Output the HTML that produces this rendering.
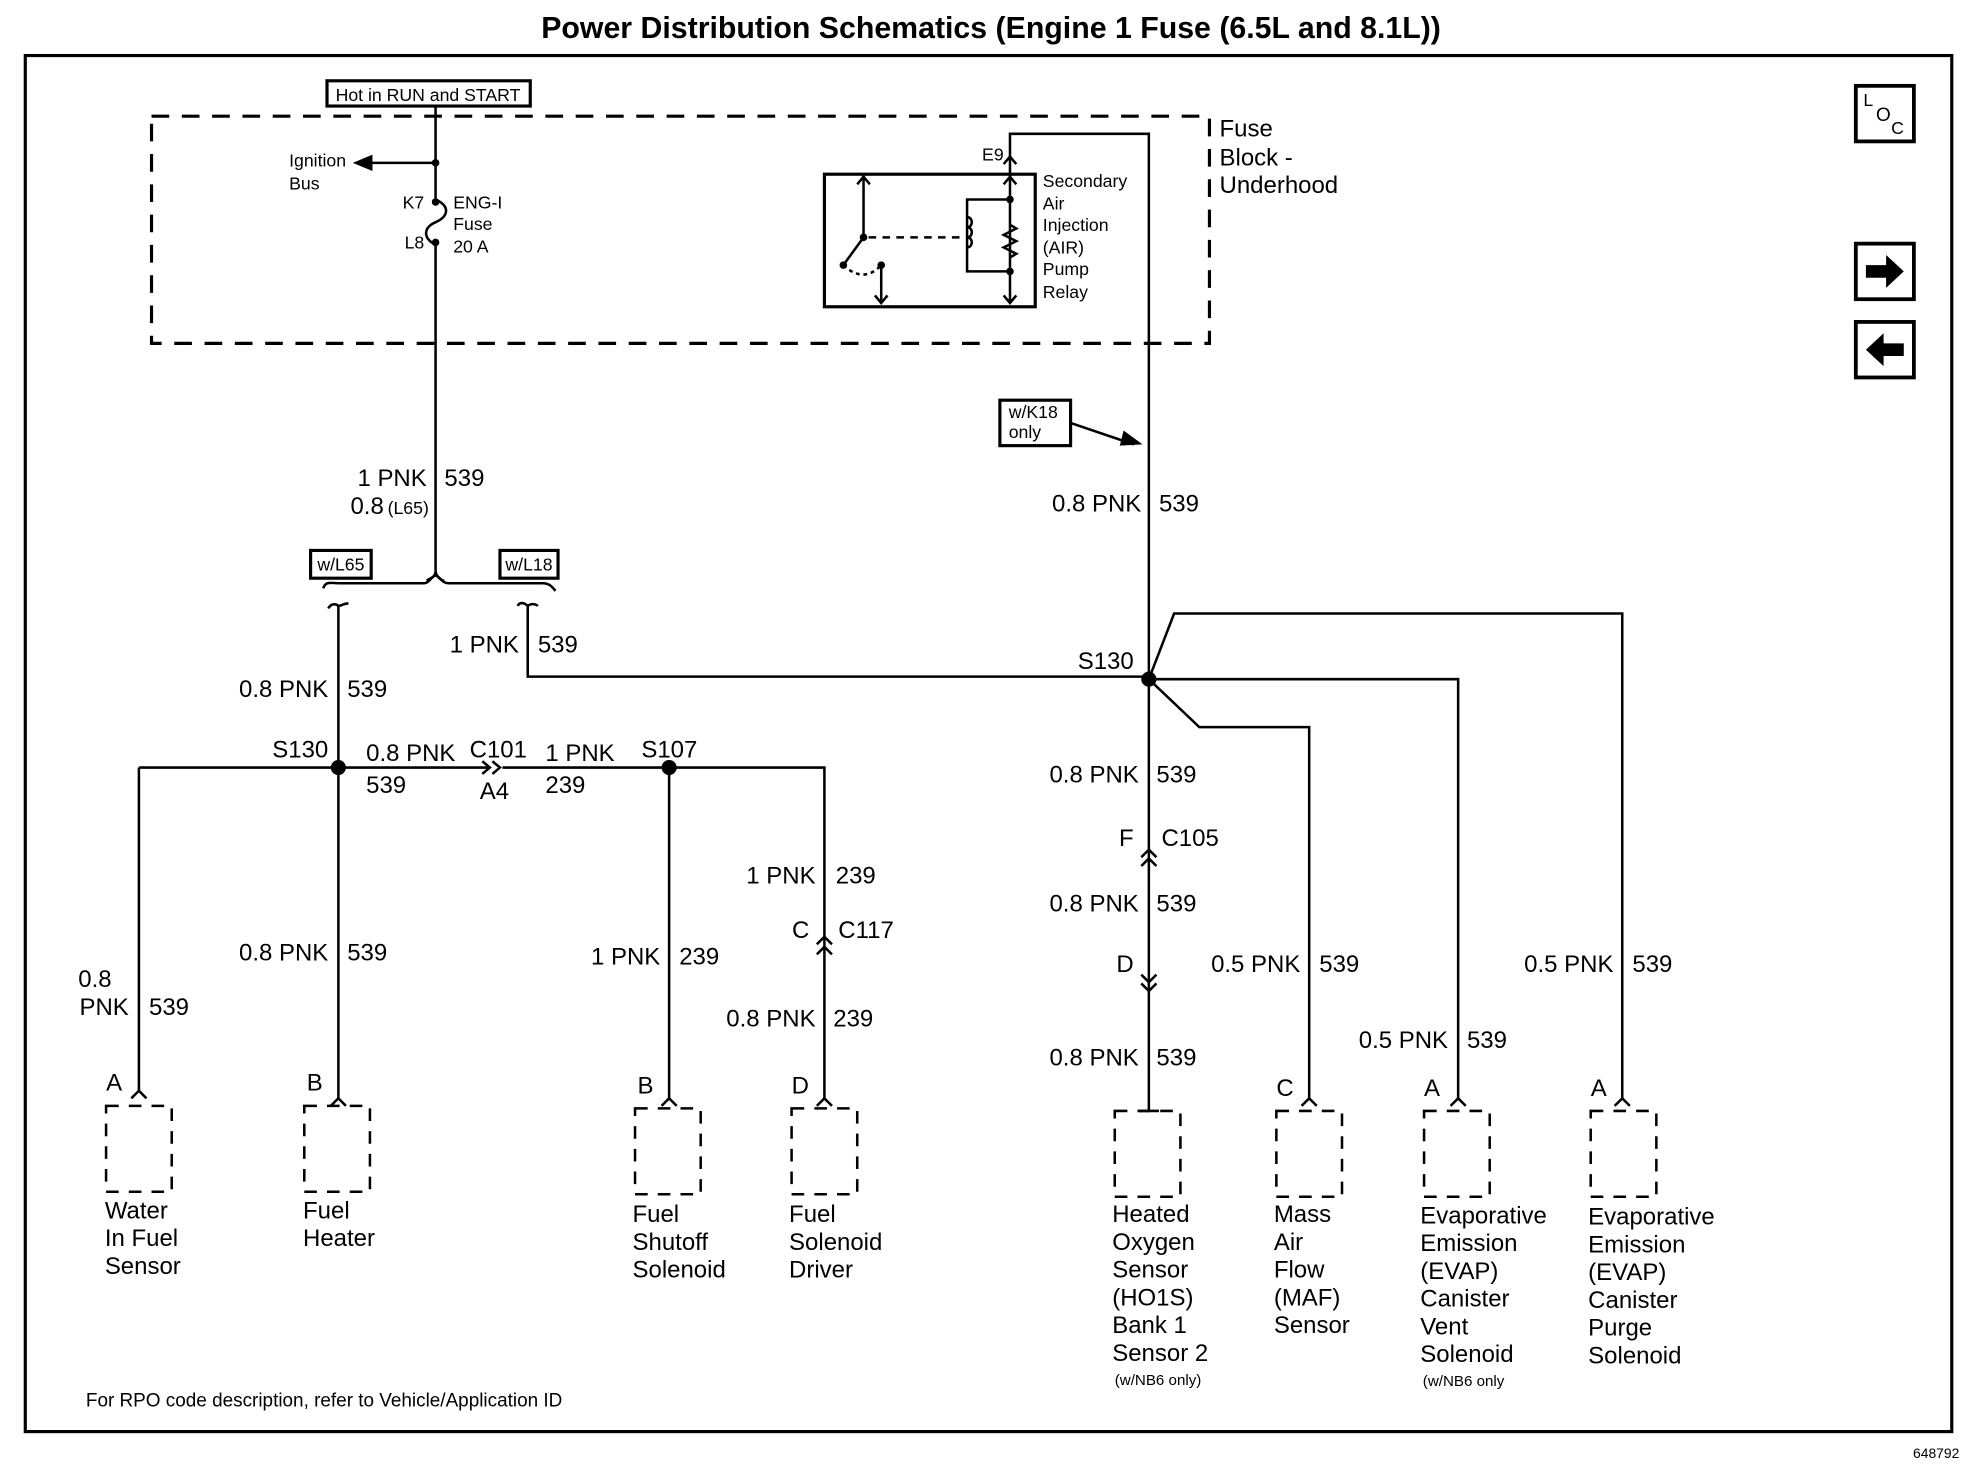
<!DOCTYPE html>
<html><head><meta charset="utf-8"><style>
html,body{margin:0;padding:0;background:#fff;}
svg{display:block;}
text{font-family:"Liberation Sans",Arial,sans-serif;fill:#000;}
.w{font-size:19px;}
.s{font-size:14px;}
.c{font-size:19px;}
</style></head><body>
<svg width="1972" height="1472" viewBox="0 0 1562 1166" xmlns="http://www.w3.org/2000/svg">
<g stroke="#000" stroke-width="2" fill="none">
<rect x="20" y="44" width="1526" height="1090" stroke-width="2.5"/>
<rect x="120" y="92" width="838" height="180" stroke-dasharray="14,10" stroke-width="2.5"/>
<rect x="259" y="64" width="161" height="20" stroke-width="2.5"/>
<path d="M345 84 V158 M345 194 V452"/>
<path d="M345 158 C358 164 354 172 345 176 C336 180 334 188 345 194"/>
<path d="M345 129 H290"/>
<path d="M282 129 L294 124 L294 134 Z" fill="#000"/>
<path d="M345 452 C345 458 340 458 338 460 M345 452 C345 456 349 460 352 460"/>
<path d="M256 466 C258 460 262 462 268 462 H336 C340 462 342 456 345 456 C348 456 350 462 355 462 H430 C436 462 438 466 440 468"/>
<path d="M260 482 C262 478 266 478 268 480 C270 480 272 478 276 478"/>
<path d="M268 480 V870"/>
<path d="M410 480 C412 476 416 478 418 480 C420 478 424 478 426 480"/>
<path d="M418 480 V536 H910"/>
<path d="M800 138 V106 H910 V538"/>
<path d="M795 130 L800 124 L805 130"/>
<rect x="653" y="138" width="167" height="105" stroke-width="2.5"/>
<path d="M684 138 V188 L668 210"/>
<path d="M679 146 L684 140 L689 146"/>
<path d="M698 210 V240 M693 234 L698 240 L703 234"/>
<path d="M668 210 Q684 225 698 210" stroke-dasharray="3,3"/>
<path d="M688 188 H760" stroke-dasharray="6,5"/>
<path d="M800 138 V240 M795 146 L800 140 L805 146 M795 234 L800 240 L805 234"/>
<path d="M800 158 H766 V215 H800"/>
<path d="M766 172 c5 0 5 8 0 8 c5 0 5 8 0 8 c5 0 5 8 0 8"/>
<path d="M800 178 l5 3 l-10 5 l10 5 l-10 5 l10 5 l-5 3"/>
<rect x="792" y="317" width="56" height="36" stroke-width="2.5"/>
<path d="M848 335 L898 352"/>
<path d="M910 538 V880"/>
<path d="M910 538 L950 576 H1037 V870"/>
<path d="M910 538 H1155 V870"/>
<path d="M910 538 L930 486 H1285 V870"/>
<path d="M110 608 H388 M398 608 H653 V870"/>
<path d="M110 608 V865"/>
<path d="M530 608 V870"/>
<path d="M382 603 L388 608 L382 613 M390 603 L396 608 L390 613"/>
<path d="M647 748 L653 742 L659 748 M647 756 L653 750 L659 756"/>
<path d="M904 679 L910 673 L916 679 M904 686 L910 680 L916 686"/>
<path d="M904 772 L910 778 L916 772 M904 779 L910 785 L916 779"/>
<g stroke-dasharray="10,8">
<rect x="84" y="876" width="52" height="68"/>
<rect x="241" y="876" width="52" height="68"/>
<rect x="503" y="878" width="52" height="68"/>
<rect x="627" y="878" width="52" height="68"/>
<rect x="883" y="880" width="52" height="68"/>
<rect x="1011" y="880" width="52" height="68"/>
<rect x="1128" y="880" width="52" height="68"/>
<rect x="1260" y="880" width="52" height="68"/>
</g>
<path d="M104 870 L110 864 L116 870 M262 876 L268 870 L274 876 M524 876 L530 870 L536 876 M647 876 L653 870 L659 876 M1031 876 L1037 870 L1043 876 M1149 876 L1155 870 L1161 876 M1279 876 L1285 870 L1291 876 M902 880 H918"/>
<rect x="1470" y="68" width="46" height="44" stroke-width="3"/>
<rect x="1470" y="193" width="46" height="44" stroke-width="3"/>
<rect x="1470" y="255" width="46" height="44" stroke-width="3"/>
</g>
<g fill="#000">
<circle cx="345" cy="129" r="3"/><circle cx="345" cy="160" r="3"/><circle cx="345" cy="192" r="3"/>
<circle cx="684" cy="188" r="3"/><circle cx="668" cy="210" r="3"/><circle cx="698" cy="210" r="3"/>
<circle cx="800" cy="158" r="3"/><circle cx="800" cy="215" r="3"/>
<circle cx="910" cy="538" r="6"/><circle cx="268" cy="608" r="6"/><circle cx="530" cy="608" r="6"/>
<path d="M905 352 L890 341 L887 353 Z"/>
<path d="M1478 210 H1494 V202 L1508 215 L1494 228 V220 H1478 Z"/>
<path d="M1508 272 H1492 V264 L1478 277 L1492 290 V282 H1508 Z"/>
</g>
<text x="785" y="30" text-anchor="middle" style="font-size:24px;font-weight:bold">Power Distribution Schematics (Engine 1 Fuse (6.5L and 8.1L))</text>
<text x="339" y="80" text-anchor="middle" class="s">Hot in RUN and START</text>
<text x="966" y="108" class="c">Fuse</text><text x="966" y="131" class="c">Block -</text><text x="966" y="153" class="c">Underhood</text>
<text x="229" y="132" class="s">Ignition</text><text x="229" y="150" class="s">Bus</text>
<text x="336" y="165" text-anchor="end" class="s">K7</text><text x="336" y="197" text-anchor="end" class="s">L8</text>
<text x="359" y="165" class="s">ENG-I</text><text x="359" y="182" class="s">Fuse</text><text x="359" y="200" class="s">20 A</text>
<text x="795" y="127" text-anchor="end" class="s">E9</text>
<g class="s"><text x="826" y="148">Secondary</text><text x="826" y="166">Air</text><text x="826" y="183">Injection</text><text x="826" y="201">(AIR)</text><text x="826" y="218">Pump</text><text x="826" y="236">Relay</text></g>
<text x="799" y="331" class="s">w/K18</text><text x="799" y="347" class="s">only</text>
<text x="338" y="385" text-anchor="end" class="w">1 PNK</text><text x="352" y="385" class="w">539</text>
<text x="304" y="407" text-anchor="end" class="w">0.8</text><text x="307" y="407" class="s">(L65)</text>
<rect x="246" y="436" width="48" height="22" fill="none" stroke="#000" stroke-width="2.5"/>
<text x="270" y="452" text-anchor="middle" class="s">w/L65</text>
<rect x="396" y="436" width="46" height="22" fill="none" stroke="#000" stroke-width="2.5"/>
<text x="419" y="452" text-anchor="middle" class="s">w/L18</text>
<text x="904" y="405" text-anchor="end" class="w">0.8 PNK</text><text x="918" y="405" class="w">539</text>
<text x="411" y="517" text-anchor="end" class="w">1 PNK</text><text x="426" y="517" class="w">539</text>
<text x="260" y="552" text-anchor="end" class="w">0.8 PNK</text><text x="275" y="552" class="w">539</text>
<text x="898" y="530" text-anchor="end" class="w">S130</text>
<text x="260" y="600" text-anchor="end" class="w">S130</text>
<text x="290" y="603" class="w">0.8 PNK</text><text x="290" y="628" class="w">539</text>
<text x="372" y="600" class="w">C101</text><text x="380" y="633" class="w">A4</text>
<text x="432" y="603" class="w">1 PNK</text><text x="432" y="628" class="w">239</text>
<text x="508" y="600" class="w">S107</text>
<text x="646" y="700" text-anchor="end" class="w">1 PNK</text><text x="662" y="700" class="w">239</text>
<text x="641" y="743" text-anchor="end" class="w">C</text><text x="664" y="743" class="w">C117</text>
<text x="646" y="813" text-anchor="end" class="w">0.8 PNK</text><text x="660" y="813" class="w">239</text>
<text x="523" y="764" text-anchor="end" class="w">1 PNK</text><text x="538" y="764" class="w">239</text>
<text x="260" y="761" text-anchor="end" class="w">0.8 PNK</text><text x="275" y="761" class="w">539</text>
<text x="62" y="782" class="w">0.8</text><text x="102" y="804" text-anchor="end" class="w">PNK</text><text x="118" y="804" class="w">539</text>
<text x="902" y="620" text-anchor="end" class="w">0.8 PNK</text><text x="916" y="620" class="w">539</text>
<text x="898" y="670" text-anchor="end" class="w">F</text><text x="920" y="670" class="w">C105</text>
<text x="902" y="722" text-anchor="end" class="w">0.8 PNK</text><text x="916" y="722" class="w">539</text>
<text x="898" y="770" text-anchor="end" class="w">D</text>
<text x="902" y="844" text-anchor="end" class="w">0.8 PNK</text><text x="916" y="844" class="w">539</text>
<text x="1030" y="770" text-anchor="end" class="w">0.5 PNK</text><text x="1045" y="770" class="w">539</text>
<text x="1147" y="830" text-anchor="end" class="w">0.5 PNK</text><text x="1162" y="830" class="w">539</text>
<text x="1278" y="770" text-anchor="end" class="w">0.5 PNK</text><text x="1293" y="770" class="w">539</text>
<g class="c">
<text x="84" y="864">A</text><text x="243" y="864">B</text><text x="505" y="866">B</text><text x="627" y="866">D</text>
<text x="1011" y="868">C</text><text x="1128" y="868">A</text><text x="1260" y="868">A</text>
<text x="83" y="965">Water</text><text x="83" y="987">In Fuel</text><text x="83" y="1009">Sensor</text>
<text x="240" y="965">Fuel</text><text x="240" y="987">Heater</text>
<text x="501" y="968">Fuel</text><text x="501" y="990">Shutoff</text><text x="501" y="1012">Solenoid</text>
<text x="625" y="968">Fuel</text><text x="625" y="990">Solenoid</text><text x="625" y="1012">Driver</text>
<text x="881" y="968">Heated</text><text x="881" y="990">Oxygen</text><text x="881" y="1012">Sensor</text><text x="881" y="1034">(HO1S)</text><text x="881" y="1056">Bank 1</text><text x="881" y="1078">Sensor 2</text>
<text x="1009" y="968">Mass</text><text x="1009" y="990">Air</text><text x="1009" y="1012">Flow</text><text x="1009" y="1034">(MAF)</text><text x="1009" y="1056">Sensor</text>
<text x="1125" y="969">Evaporative</text><text x="1125" y="991">Emission</text><text x="1125" y="1013">(EVAP)</text><text x="1125" y="1035">Canister</text><text x="1125" y="1057">Vent</text><text x="1125" y="1079">Solenoid</text>
<text x="1258" y="970">Evaporative</text><text x="1258" y="992">Emission</text><text x="1258" y="1014">(EVAP)</text><text x="1258" y="1036">Canister</text><text x="1258" y="1058">Purge</text><text x="1258" y="1080">Solenoid</text>
</g>
<text x="883" y="1097" class="s" style="font-size:12px">(w/NB6 only)</text>
<text x="1127" y="1098" class="s" style="font-size:12px">(w/NB6 only</text>
<text x="68" y="1114" class="s" style="font-size:15px">For RPO code description, refer to Vehicle/Application ID</text>
<text x="1552" y="1155" text-anchor="end" style="font-size:11px">648792</text>
<text x="1476" y="84" style="font-size:14px">L</text><text x="1486" y="96" style="font-size:15px">O</text><text x="1498" y="106" style="font-size:14px">C</text>
</svg>
</body></html>
